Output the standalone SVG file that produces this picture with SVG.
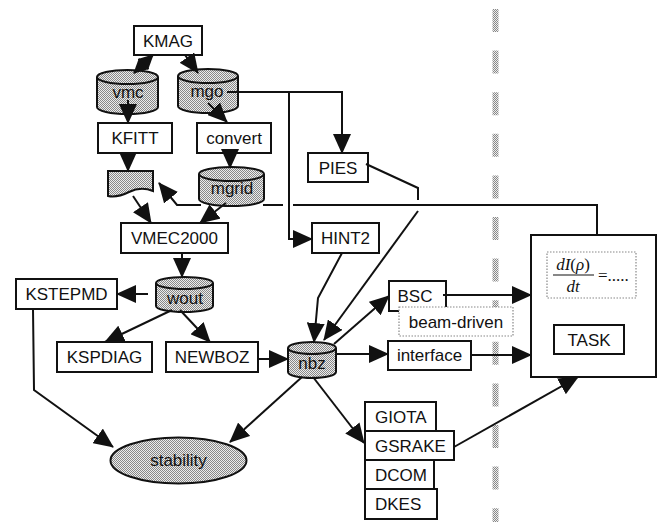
<svg xmlns="http://www.w3.org/2000/svg" width="662" height="522" viewBox="0 0 662 522">
<defs>
<pattern id="stip" width="2" height="2" patternUnits="userSpaceOnUse">
<rect width="2" height="2" fill="#ececec"/>
<rect x="0" y="0" width="1" height="1" fill="#888"/>
<rect x="1" y="1" width="1" height="1" fill="#888"/>
</pattern>
<marker id="ah" markerUnits="userSpaceOnUse" markerWidth="20" markerHeight="18" refX="19" refY="9" orient="auto-start-reverse"><path d="M0,0 L20,9 L0,18 Z" fill="#111"/></marker>
<marker id="ahs" markerUnits="userSpaceOnUse" markerWidth="15" markerHeight="15" refX="14" refY="7.5" orient="auto-start-reverse"><path d="M0,0 L15,7.5 L0,15 Z" fill="#111"/></marker>
</defs>
<style>
.bx{fill:#fff;stroke:#111;stroke-width:2}
.cy{fill:url(#stip);stroke:#111;stroke-width:2}
.t{font-family:"Liberation Sans",Arial,sans-serif;font-size:17px;fill:#111;text-anchor:middle}
.tl{font-family:"Liberation Sans",Arial,sans-serif;font-size:17px;fill:#111}
.c{fill:none;stroke:#111;stroke-width:2}
.ca{fill:none;stroke:#111;stroke-width:2;marker-end:url(#ah)}
.dot{fill:#fff;stroke:#888;stroke-width:1.2;stroke-dasharray:1.5 1.5}
.m{font-family:"Liberation Serif","Times New Roman",serif;font-size:17px;fill:#111}
</style>
<rect width="662" height="522" fill="#fff"/>
<line x1="495.5" y1="9" x2="495.5" y2="522" stroke="url(#stip)" stroke-width="6" stroke-dasharray="23 18.6"/>

<g id="kmag"><rect class="bx" x="134" y="26" width="68" height="29"/><text class="t" x="168" y="47">KMAG</text></g>
<g id="vmc"><path class="cy" d="M97,77 V107 A30.5,7 0 0 0 158,107 V77"/><ellipse class="cy" cx="127.5" cy="77" rx="30.5" ry="7"/><text class="t" x="128" y="98">vmc</text></g>
<g id="mgo"><path class="cy" d="M178,76 V106 A30,7 0 0 0 238,106 V76"/><ellipse class="cy" cx="208" cy="76" rx="30" ry="7"/><text class="t" x="207" y="97">mgo</text></g>
<g id="kfitt"><rect class="bx" x="98" y="123" width="74" height="30"/><text class="t" x="135" y="144">KFITT</text></g>
<g id="convert"><rect class="bx" x="197" y="123" width="74" height="30"/><text class="t" x="234" y="144">convert</text></g>
<g id="doc"><path class="cy" d="M108,171 H153 V191 Q141,186 129,192 T108,196 Z"/></g>
<g id="mgrid"><path class="cy" d="M199,174 V199 A32.5,7 0 0 0 264,199 V174"/><ellipse class="cy" cx="231.5" cy="174" rx="32.5" ry="7"/><text class="t" x="232" y="194">mgrid</text></g>
<g id="pies"><rect class="bx" x="308" y="153" width="60" height="29"/><text class="t" x="338" y="174">PIES</text></g>
<g id="vmec"><rect class="bx" x="121" y="223" width="107" height="30"/><text class="t" x="174.5" y="244">VMEC2000</text></g>
<g id="hint2"><rect class="bx" x="312" y="223" width="67" height="30"/><text class="t" x="345.5" y="244">HINT2</text></g>
<g id="wout"><path class="cy" d="M156,283 V306 A28.5,6 0 0 0 213,306 V283"/><ellipse class="cy" cx="184.5" cy="283" rx="28.5" ry="6"/><text class="t" x="185" y="304">wout</text></g>
<g id="kstepmd"><rect class="bx" x="16" y="279" width="101" height="30"/><text class="t" x="66.5" y="300">KSTEPMD</text></g>
<g id="kspdiag"><rect class="bx" x="57" y="342" width="95" height="30"/><text class="t" x="104.5" y="363">KSPDIAG</text></g>
<g id="newboz"><rect class="bx" x="166" y="342" width="92" height="30"/><text class="t" x="212" y="363">NEWBOZ</text></g>
<g id="nbz"><path class="cy" d="M288,348 V372 A24,6 0 0 0 336,372 V348"/><ellipse class="cy" cx="312" cy="348" rx="24" ry="6"/><text class="t" x="312" y="369">nbz</text></g>
<g id="bsc"><rect class="bx" x="389" y="281" width="57" height="30"/><text class="t" x="415" y="302">BSC</text></g>
<g id="beam"><rect class="dot" x="399" y="307" width="114" height="29"/><text class="t" x="456" y="328">beam-driven</text></g>
<g id="interface"><rect class="bx" x="388" y="341" width="83" height="29"/><text class="t" x="429.5" y="361">interface</text></g>
<g id="stability"><ellipse class="cy" cx="178.5" cy="460.5" rx="68" ry="23"/><text class="t" x="178.5" y="466">stability</text></g>
<g id="giota"><rect class="bx" x="365" y="402" width="71" height="29"/><text class="tl" x="375" y="423">GIOTA</text></g>
<g id="dcom"><rect class="bx" x="365" y="460" width="69" height="29"/><text class="tl" x="375" y="481">DCOM</text></g>
<g id="dkes"><rect class="bx" x="365" y="489" width="72" height="30"/><text class="tl" x="375" y="510">DKES</text></g>
<g id="gsrake"><rect class="bx" x="365" y="431" width="89" height="29"/><text class="tl" x="375" y="452">GSRAKE</text></g>

<g id="connectors">
<line class="c" x1="153" y1="55" x2="134" y2="73" style="marker-start:url(#ahs);marker-end:url(#ahs)"/>
<line class="ca" x1="185" y1="55" x2="198" y2="73"/>
<line class="ca" x1="128" y1="100" x2="128" y2="123"/>
<line class="ca" x1="208" y1="103" x2="227" y2="122"/>
<path class="ca" d="M227,92 H342 V153"/>
<path class="ca" d="M289,92 V239 H312"/>
<line class="ca" x1="128" y1="153" x2="128" y2="171"/>
<line class="ca" x1="230" y1="153" x2="230" y2="168"/>
<line class="ca" x1="133" y1="196" x2="151" y2="223"/>
<line class="ca" x1="226" y1="203" x2="200" y2="223"/>
<line class="ca" x1="182" y1="253" x2="182" y2="277"/>
<line class="ca" x1="148" y1="294" x2="117" y2="294"/>
<line class="ca" x1="172" y1="310" x2="105" y2="342"/>
<line class="ca" x1="180" y1="310" x2="210" y2="342"/>
<line class="ca" x1="258" y1="359" x2="288" y2="359"/>
<path class="ca" d="M33,309 L34,390 L113,447"/>
<path class="ca" d="M342,253 L318,298 L314,342"/>
<path class="c" d="M366,164 L418,188 V200"/>
<path class="ca" d="M418,211 L324,340"/>
<line class="ca" x1="334" y1="344" x2="389" y2="296"/>
<line class="ca" x1="336" y1="354" x2="388" y2="354"/>
<line class="ca" x1="443" y1="295" x2="531" y2="295"/>
<line class="ca" x1="471" y1="355" x2="531" y2="355"/>
<line class="ca" x1="302" y1="377" x2="230" y2="442"/>
<line class="ca" x1="313" y1="377" x2="364" y2="443"/>
<line class="ca" x1="454" y1="447" x2="578" y2="377"/>
<path class="c" d="M597,235 V205 H293"/>
<path class="c" d="M283,205 H263"/>
<path class="ca" d="M201,205 H177 L159,183"/>
</g>

<g id="task">
<rect class="bx" x="531" y="235" width="125" height="142"/>
<rect class="dot" x="547" y="252" width="89" height="46"/>
<text class="m" x="573" y="270" text-anchor="middle"><tspan font-style="italic">dI</tspan>(<tspan font-style="italic">ρ</tspan>)</text>
<line x1="553" y1="275" x2="594" y2="275" stroke="#111" stroke-width="1.2"/>
<text class="m" x="573" y="292" text-anchor="middle" font-style="italic">dt</text>
<text class="m" x="598" y="281">=.....</text>
<rect class="bx" x="554" y="325" width="70" height="29"/>
<text class="t" x="589" y="346">TASK</text>
</g>
</svg>
